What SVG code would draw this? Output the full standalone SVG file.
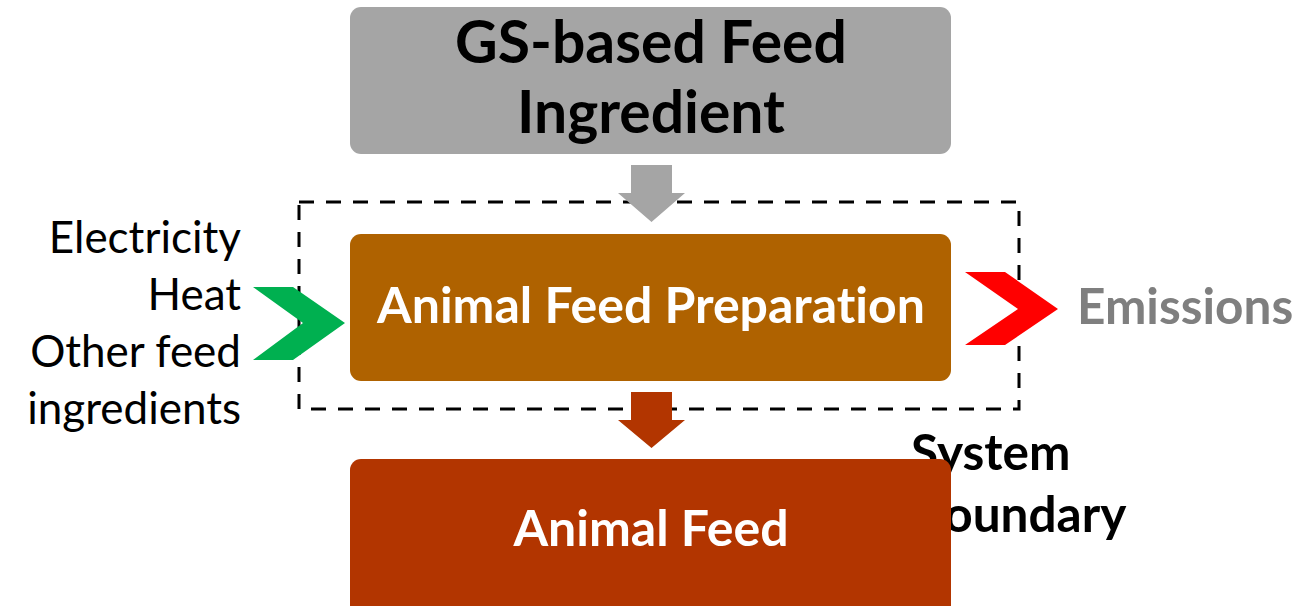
<svg xmlns="http://www.w3.org/2000/svg" width="1304" height="606" viewBox="0 0 1304 606">
  <style>
    text { font-variant-ligatures: none; }
    .bold { font-family: Lato, "Open Sans", "Liberation Sans", sans-serif; font-weight: bold; }
    .reg { font-family: Lato, "Open Sans", "Liberation Sans", sans-serif; font-weight: normal; }
    .title { font-size: 58.8px; fill: #000000; text-anchor: middle; }
    .label { font-size: 50px; fill: #ffffff; text-anchor: middle; }
    .input { font-size: 44px; fill: #000000; text-anchor: end; }
  </style>
  <rect width="1304" height="606" fill="#ffffff"/>

  <!-- boundary caption sits beneath the product box -->
  <g id="system-boundary-label">
    <text class="bold" x="911" y="470" font-size="49.5">System</text>
    <text class="bold" x="912" y="532" font-size="49.5">Boundary</text>
  </g>

  <!-- dashed system boundary -->
  <g id="system-boundary">
    <rect x="299" y="202" width="720" height="207" fill="none" stroke="#000000" stroke-width="3" stroke-dasharray="15 12"/>
  </g>

  <g id="gs-ingredient">
    <rect x="350" y="7" width="601" height="147" rx="11" fill="#a5a5a5"/>
    <text class="bold title" x="651" y="63">GS-based Feed</text>
    <text class="bold title" x="651" y="133">Ingredient</text>
  </g>

  <g id="feed-preparation">
    <rect x="350" y="234" width="601" height="147" rx="11" fill="#af6200"/>
    <text class="bold label" x="651" y="323">Animal Feed Preparation</text>
  </g>

  <g id="animal-feed">
    <rect x="350" y="459" width="601" height="170" rx="11" fill="#b23500"/>
    <text class="bold label" x="651" y="546">Animal Feed</text>
  </g>

  <g id="inputs">
    <text class="reg input" x="241" y="253">Electricity</text>
    <text class="reg input" x="241" y="310">Heat</text>
    <text class="reg input" x="241" y="367">Other feed</text>
    <text class="reg input" x="241" y="424">ingredients</text>
  </g>

  <g id="emissions">
    <text class="bold" x="1077" y="324" font-size="49.5" fill="#7f7f7f">Emissions</text>
  </g>

  <g id="connectors">
    <!-- ingredient into preparation -->
    <polygon points="631,165 672,165 672,193 685,193 651.5,222 618,193 631,193" fill="#a5a5a5"/>
    <!-- preparation into feed -->
    <polygon points="631,392 672,392 672,420 685,420 651.5,448 618,420 631,420" fill="#b23500"/>
    <!-- inputs chevron -->
    <polygon points="253,287 293,287 345,323 293,360 253,360 303,323" fill="#00b050"/>
    <!-- emissions chevron -->
    <polygon points="965,272 1005,272 1058,309 1005,345 965,345 1018,309" fill="#ff0000"/>
  </g>
</svg>
